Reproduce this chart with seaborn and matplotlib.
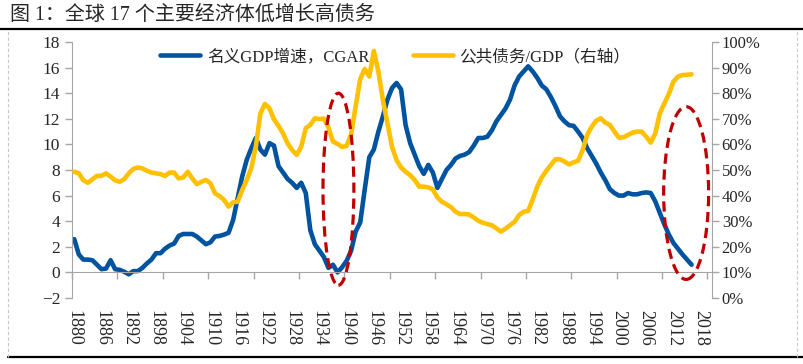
import matplotlib
matplotlib.use("Agg")
import pandas as pd
import matplotlib.pyplot as plt
import seaborn as sns
from matplotlib.patches import Ellipse
from matplotlib.lines import Line2D
from matplotlib.ticker import FixedLocator

sns.set_style("white")
plt.rcParams["font.family"] = ["Liberation Serif", "Noto Sans CJK SC"]
plt.rcParams["axes.unicode_minus"] = True

# ---- data ----
years = list(range(1880, 2017))

gdp_growth = [
    2.6, 1.4, 1.0, 1.0, 0.95, 0.6, 0.25, 0.3, 0.95, 0.25,
    0.2, 0.05, -0.15, 0.1, 0.1, 0.35, 0.7, 1.0, 1.5, 1.5,
    1.85, 2.1, 2.25, 2.85, 3.0, 3.0, 3.0, 2.8, 2.5, 2.2,
    2.35, 2.8, 2.85, 2.95, 3.1, 4.1, 5.8, 7.5, 8.8, 9.7,
    10.5, 9.6, 9.2, 10.1, 9.9, 8.3, 7.8, 7.3, 7.0, 6.6,
    7.0, 6.2, 3.3, 2.2, 1.7, 1.2, 0.35, 0.6, 0.0, 0.4,
    0.9, 1.7, 3.2, 3.9, 6.5, 9.0, 9.6, 11.0, 12.2, 13.5,
    14.4, 14.8, 14.3, 11.5, 10.1, 9.2, 8.3, 7.7, 8.4, 7.8,
    6.6, 7.3, 8.0, 8.4, 8.9, 9.1, 9.2, 9.4, 9.9, 10.5,
    10.5, 10.6, 11.1, 11.8, 12.3, 12.8, 13.5, 14.6, 15.3, 15.7,
    16.1, 15.7, 15.2, 14.6, 14.3, 13.7, 13.0, 12.2, 11.8, 11.5,
    11.45, 11.0, 10.5, 9.7, 9.1, 8.5, 7.8, 7.2, 6.5, 6.2,
    6.0, 6.0, 6.2, 6.1, 6.1, 6.2, 6.25, 6.2, 5.55, 4.65,
    3.75, 2.95, 2.3, 1.85, 1.4, 1.0, 0.6,
]

debt_ratio = [
    49.3, 48.7, 46.0, 45.0, 46.4, 47.7, 47.7, 48.7, 47.4, 46.0,
    45.4, 46.4, 48.7, 50.4, 51.0, 50.6, 49.7, 49.0, 48.7, 48.4,
    47.7, 49.0, 49.0, 46.7, 47.1, 49.3, 46.7, 44.5, 45.4, 46.1,
    44.8, 40.9, 39.8, 38.3, 35.7, 37.4, 37.6, 42.2, 46.1, 50.7,
    59.1, 72.1, 75.8, 74.1, 69.8, 67.2, 64.3, 60.4, 57.8, 55.9,
    59.1, 66.3, 67.6, 70.2, 69.9, 70.1, 66.5, 61.1, 60.2, 59.0,
    59.4, 64.0, 75.0, 85.5, 89.5, 86.5, 96.5, 88.4, 77.3, 68.2,
    59.1, 53.9, 51.0, 49.3, 48.0, 46.1, 43.5, 43.5, 43.2, 42.4,
    39.3, 37.6, 36.6, 35.5, 33.7, 32.8, 32.8, 32.6, 31.5, 30.2,
    29.4, 28.9, 28.4, 27.2, 25.9, 27.1, 28.4, 29.8, 32.4, 33.7,
    34.0, 38.5, 43.5, 47.1, 49.7, 52.0, 54.2, 54.2, 53.3, 52.2,
    53.0, 53.6, 57.8, 63.7, 66.9, 69.3, 70.2, 68.5, 67.6, 65.0,
    62.6, 62.8, 63.7, 64.6, 65.0, 65.0, 63.0, 60.7, 64.3, 72.1,
    76.0, 79.7, 84.5, 86.5, 87.1, 87.2, 87.4,
]

label_years = list(range(1880, 2019, 6))
left_ticks = list(range(-2, 19, 2))
right_ticks = list(range(0, 101, 10))

BLUE = "#00539F"
GOLD = "#FFC000"
RED = "#C00000"
GRAY = "#A6A6A6"

df = pd.DataFrame({"year": years, "gdp": gdp_growth, "debt": debt_ratio})

fig = plt.figure(figsize=(8.04, 3.64), dpi=100)
ax = fig.add_axes([72 / 804, 1 - 298 / 364, 640 / 804, 256 / 364])
ax2 = ax.twinx()

sns.lineplot(data=df, x="year", y="gdp", ax=ax, color=BLUE, linewidth=3.3,
             label="名义GDP增速，CGAR", legend=False)
sns.lineplot(data=df, x="year", y="debt", ax=ax2, color=GOLD, linewidth=3.3,
             label="公共债务/GDP（右轴）", legend=False)

# left axis
ax.set_xlim(1879.5, 2020.5)
ax.set_ylim(-2, 18)
ax.set_yticks(left_ticks)
ax.set_xlabel("")
ax.set_ylabel("")
ax.tick_params(axis="y", left=True, length=5, width=1, color=GRAY,
               labelsize=12.5, pad=3.5)
for s in ["top", "right"]:
    ax.spines[s].set_visible(False)
ax.spines["left"].set_color(GRAY)
ax.spines["bottom"].set_color(GRAY)
ax.spines["bottom"].set_position(("data", 0))
ax.xaxis.set_major_locator(FixedLocator([1879.5 + 10 * i for i in range(15)]))
ax.tick_params(axis="x", bottom=True, length=5, width=1, color=GRAY,
               labelbottom=False)

# year labels sit at the bottom of the plot area
sec = ax.secondary_xaxis("bottom")
sec.set_xticks(label_years)
sec.set_xticklabels([str(y) for y in label_years], rotation=270, fontsize=13)
sec.tick_params(length=0, pad=9)
sec.spines["bottom"].set_visible(False)

# right axis
ax2.set_ylim(0, 100)
ax2.set_yticks(right_ticks)
ax2.set_yticklabels([f"{t}%" for t in right_ticks])
ax2.set_ylabel("")
ax2.tick_params(axis="y", right=True, length=5, width=1, color=GRAY,
                labelsize=12, pad=2)
for s in ["top", "left", "bottom"]:
    ax2.spines[s].set_visible(False)
ax2.spines["right"].set_color(GRAY)

# red dashed highlight ellipses
for cx, cy, w, h in [(1938.2, 6.5, 6.8, 15.0), (2014.8, 6.2, 9.9, 13.5)]:
    ax2.add_patch(Ellipse((cx, cy), w, h, transform=ax.transData, fill=False,
                          edgecolor=RED, linewidth=2.3, linestyle=(0, (3.2, 1.8)),
                          zorder=5, clip_on=False))

handles = [Line2D([], [], color=BLUE, linewidth=3.3),
           Line2D([], [], color=GOLD, linewidth=3.3)]
ax2.legend(handles, ["名义GDP增速，CGAR", "公共债务/GDP（右轴）"],
           loc="upper center", bbox_to_anchor=(0.505, 1.03), ncol=2,
           frameon=False, fontsize=12, handlelength=2.4,
           handletextpad=0.4, columnspacing=2.6)

# page decoration: title, rules, dashed frame
fig.text(10 / 804, 1 - 15 / 364, "图 1：全球 17 个主要经济体低增长高债务",
         fontsize=14.4, va="center", ha="left")
fig.add_artist(Line2D([0, 1], [1 - 29 / 364] * 2, color="black", linewidth=1.6))
fig.add_artist(Line2D([8 / 804, 1], [1 - 357 / 364] * 2, color="black", linewidth=1.6))
for xx in [8 / 804, 797 / 804]:
    fig.add_artist(Line2D([xx, xx], [1 - 357 / 364, 1 - 31 / 364], color="#C8C8C8",
                          linewidth=0.8, linestyle=(0, (3, 2))))

fig.savefig("out.png", dpi=100)
